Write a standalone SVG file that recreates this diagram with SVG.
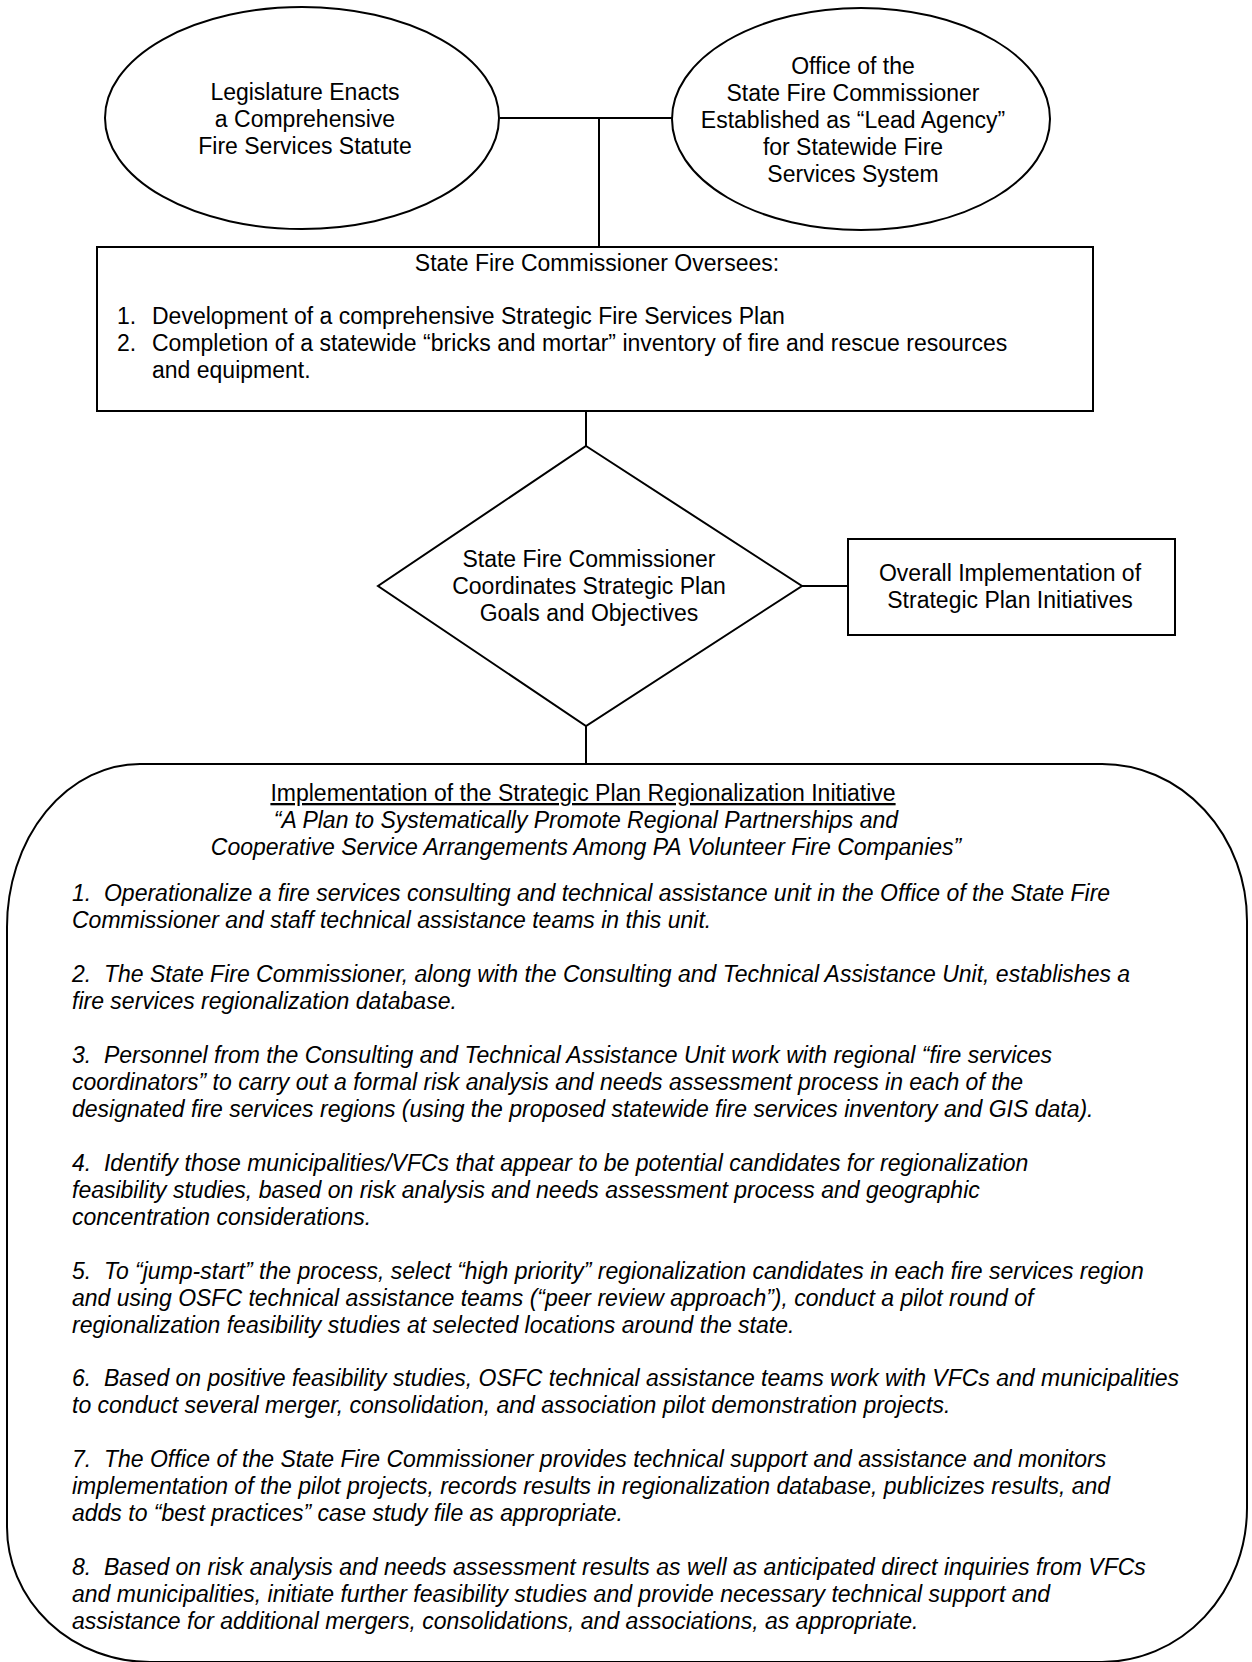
<svg xmlns="http://www.w3.org/2000/svg" width="1252" height="1662" viewBox="0 0 1252 1662">
<style>
.s{fill:none;stroke:#000;stroke-width:2}
.n{fill:#fff;stroke:#000;stroke-width:2}
text{font-family:"Liberation Sans",Arial,sans-serif;fill:#000;font-size:23px}
.t{text-anchor:middle}
.i{font-style:italic}
.c{text-anchor:middle}
</style>
<rect width="1252" height="1662" fill="#fff"/>
<g id="connectors">
<path class="s" d="M500 118 H674 M599 118 V247"/>
<path class="s" d="M586 411 V446"/>
<path class="s" d="M802 586 H848"/>
<path class="s" d="M586 726 V764"/>
</g>
<g id="legislature">
<ellipse class="n" cx="302" cy="118" rx="197" ry="111"/>
<text class="t"><tspan x="305" y="100">Legislature Enacts</tspan><tspan x="305" y="127">a Comprehensive</tspan><tspan x="305" y="154">Fire Services Statute</tspan></text>
</g>
<g id="office">
<ellipse class="n" cx="861" cy="119" rx="189" ry="111"/>
<text class="t"><tspan x="853" y="74">Office of the</tspan><tspan x="853" y="101">State Fire Commissioner</tspan><tspan x="853" y="128">Established as “Lead Agency”</tspan><tspan x="853" y="155">for Statewide Fire</tspan><tspan x="853" y="182">Services System</tspan></text>
</g>
<g id="oversees">
<rect class="n" x="97" y="247" width="996" height="164"/>
<text class="t" x="597" y="271">State Fire Commissioner Oversees:</text>
<text><tspan x="117" y="324">1.</tspan><tspan x="152" y="324">Development of a comprehensive Strategic Fire Services Plan</tspan><tspan x="117" y="351">2.</tspan><tspan x="152" y="351">Completion of a statewide “bricks and mortar” inventory of fire and rescue resources</tspan><tspan x="152" y="378">and equipment.</tspan></text>
</g>
<g id="coordinates">
<polygon class="n" points="586,446 802,586 586,726 378,586"/>
<text class="t"><tspan x="589" y="567">State Fire Commissioner</tspan><tspan x="589" y="594">Coordinates Strategic Plan</tspan><tspan x="589" y="621">Goals and Objectives</tspan></text>
</g>
<g id="overall">
<rect class="n" x="848" y="539" width="327" height="96"/>
<text class="t"><tspan x="1010" y="581">Overall Implementation of</tspan><tspan x="1010" y="608">Strategic Plan Initiatives</tspan></text>
</g>
<g id="regionalization">
<path class="n" d="M140 764 H1102 A145 157 0 0 1 1247 921 V1508 A145 154 0 0 1 1102 1662 H150 A143 135 0 0 1 7 1527 V927 A133 163 0 0 1 140 764 Z"/>
<text class="c" x="583" y="801" text-decoration="underline">Implementation of the Strategic Plan Regionalization Initiative</text>
<text class="i c"><tspan x="586" y="828">“A Plan to Systematically Promote Regional Partnerships and</tspan><tspan x="586" y="855">Cooperative Service Arrangements Among PA Volunteer Fire Companies”</tspan></text>
<text class="i">
<tspan x="72" y="901">1.&#160; Operationalize a fire services consulting and technical assistance unit in the Office of the State Fire</tspan>
<tspan x="72" y="928">Commissioner and staff technical assistance teams in this unit.</tspan>
<tspan x="72" y="982">2.&#160; The State Fire Commissioner, along with the Consulting and Technical Assistance Unit, establishes a</tspan>
<tspan x="72" y="1009">fire services regionalization database.</tspan>
<tspan x="72" y="1063">3.&#160; Personnel from the Consulting and Technical Assistance Unit work with regional “fire services</tspan>
<tspan x="72" y="1090">coordinators” to carry out a formal risk analysis and needs assessment process in each of the</tspan>
<tspan x="72" y="1117">designated fire services regions (using the proposed statewide fire services inventory and GIS data).</tspan>
<tspan x="72" y="1171">4.&#160; Identify those municipalities/VFCs that appear to be potential candidates for regionalization</tspan>
<tspan x="72" y="1198">feasibility studies, based on risk analysis and needs assessment process and geographic</tspan>
<tspan x="72" y="1225">concentration considerations.</tspan>
<tspan x="72" y="1279">5.&#160; To “jump-start” the process, select “high priority” regionalization candidates in each fire services region</tspan>
<tspan x="72" y="1306">and using OSFC technical assistance teams (“peer review approach”), conduct a pilot round of</tspan>
<tspan x="72" y="1333">regionalization feasibility studies at selected locations around the state.</tspan>
<tspan x="72" y="1386">6.&#160; Based on positive feasibility studies, OSFC technical assistance teams work with VFCs and municipalities</tspan>
<tspan x="72" y="1413">to conduct several merger, consolidation, and association pilot demonstration projects.</tspan>
<tspan x="72" y="1467">7.&#160; The Office of the State Fire Commissioner provides technical support and assistance and monitors</tspan>
<tspan x="72" y="1494">implementation of the pilot projects, records results in regionalization database, publicizes results, and</tspan>
<tspan x="72" y="1521">adds to “best practices” case study file as appropriate.</tspan>
<tspan x="72" y="1575">8.&#160; Based on risk analysis and needs assessment results as well as anticipated direct inquiries from VFCs</tspan>
<tspan x="72" y="1602">and municipalities, initiate further feasibility studies and provide necessary technical support and</tspan>
<tspan x="72" y="1629">assistance for additional mergers, consolidations, and associations, as appropriate.</tspan>
</text>
</g>
</svg>
